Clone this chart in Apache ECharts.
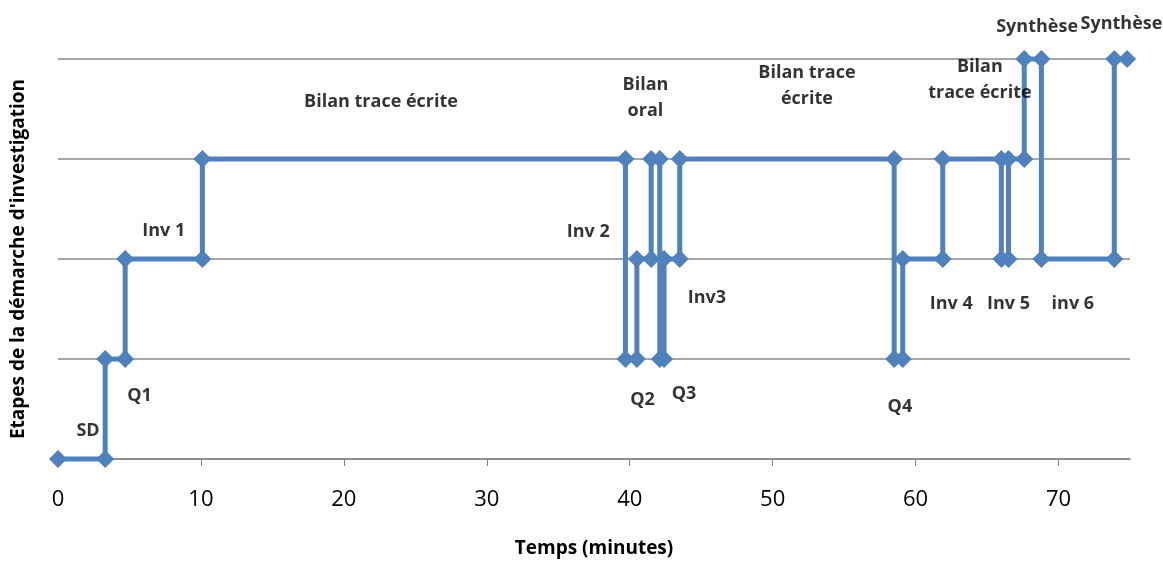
<!DOCTYPE html>
<html>
<head>
<meta charset="utf-8">
<script src="https://cdn.jsdelivr.net/npm/echarts@6/dist/echarts.min.js"></script>
<style>
html,body{margin:0;padding:0;background:#fff;}
#chart{width:1163px;height:563px;}
</style>
</head>
<body>
<div id="chart"></div>
<script>
// Path of the investigation (time in minutes, stage level)
const timeMin = [0, 3.3, 3.3, 4.7, 4.7, 10.1, 10.1, 39.7, 39.7, 40.5, 40.5, 41.5, 41.5, 42.1, 42.1, 42.4, 42.4, 43.5, 43.5, 58.5, 58.5, 59.1, 59.1, 61.9, 61.9, 66.0, 66.0, 66.5, 66.5, 67.6, 67.6, 68.8, 68.8, 73.9, 73.9, 74.8];
const stage   = [0,   0,   1,   1,   2,   2,    3,    3,    1,    1,    2,    2,    3,    3,    1,    1,    2,    2,    3,    3,    1,    1,    2,    2,    3,    3,    2,    2,    3,    3,    4,    4,    2,    2,    4,    4];

// Annotations
const annotText = ["SD", "Q1", "Inv 1", "Bilan trace écrite", "Inv 2", "Bilan\noral", "Q2", "Q3", "Inv3", "Bilan trace\nécrite", "Q4", "Bilan\ntrace écrite", "Inv 4", "Inv 5", "inv 6", "Synthèse", "Synthèse"];
const annotX    = [2.1,  5.7,  7.4,     22.6,                 37.1,    41.1,         40.9, 43.8, 45.4,   52.4,                  58.9, 64.5,                   62.5,    66.5,    71.0,    68.5,       74.4];
const annotY    = [0.28, 0.63, 2.28,    3.57,                 2.27,    3.61,         0.59, 0.65, 1.61,   3.73,                  0.52, 3.79,                   1.55,    1.55,    1.55,    4.32,       4.35];

const xTicks = [0, 10, 20, 30, 40, 50, 60, 70];
const xTickMarks = [10, 20, 30, 40, 50, 60, 70];

const FONT = 'Open Sans';
const chart = echarts.init(document.getElementById('chart'));
chart.setOption({
  animation: false,
  backgroundColor: '#ffffff',
  grid: { left: 58, right: 33, top: 59, bottom: 104, containLabel: false },
  xAxis: {
    type: 'value', min: 0, max: 75, interval: 10,
    name: 'Temps (minutes)', nameLocation: 'middle', nameGap: 80,
    nameTextStyle: { fontFamily: FONT, fontWeight: 'bold', fontSize: 19, color: '#000' },
    axisLine: { show: true, lineStyle: { color: '#888888', width: 1.5 } },
    axisTick: { show: true, length: 7, lineStyle: { color: '#888888' }, customValues: xTickMarks },
    axisLabel: { customValues: xTicks, margin: 30, fontFamily: FONT, fontSize: 22, color: '#000' },
    splitLine: { show: false }
  },
  yAxis: {
    type: 'value', min: 0, max: 4, interval: 1,
    name: "Etapes de la démarche d'investigation", nameLocation: 'middle', nameGap: 30, nameRotate: 90,
    nameTextStyle: { fontFamily: FONT, fontWeight: 'bold', fontSize: 19, color: '#000' },
    axisLine: { show: false }, axisTick: { show: false }, axisLabel: { show: false },
    splitLine: { show: true, lineStyle: { color: '#888888', width: 1.5 } }
  },
  series: [
    {
      type: 'line',
      data: timeMin.map((t, i) => [t, stage[i]]),
      symbol: 'diamond', symbolSize: 18, showAllSymbol: true,
      lineStyle: { color: '#4f81bd', width: 5 },
      itemStyle: { color: '#4f81bd' },
      clip: false,
      z: 3
    },
    {
      type: 'scatter',
      data: annotText.map((s, i) => [annotX[i], annotY[i], s]),
      symbolSize: 0,
      clip: false,
      silent: true,
      label: {
        show: true, position: 'inside',
        formatter: p => p.data[2],
        fontFamily: FONT, fontWeight: 'bold', fontSize: 18, color: '#000',
        lineHeight: 26, align: 'center', verticalAlign: 'middle'
      },
      z: 5
    }
  ]
});
</script>
</body>
</html>
